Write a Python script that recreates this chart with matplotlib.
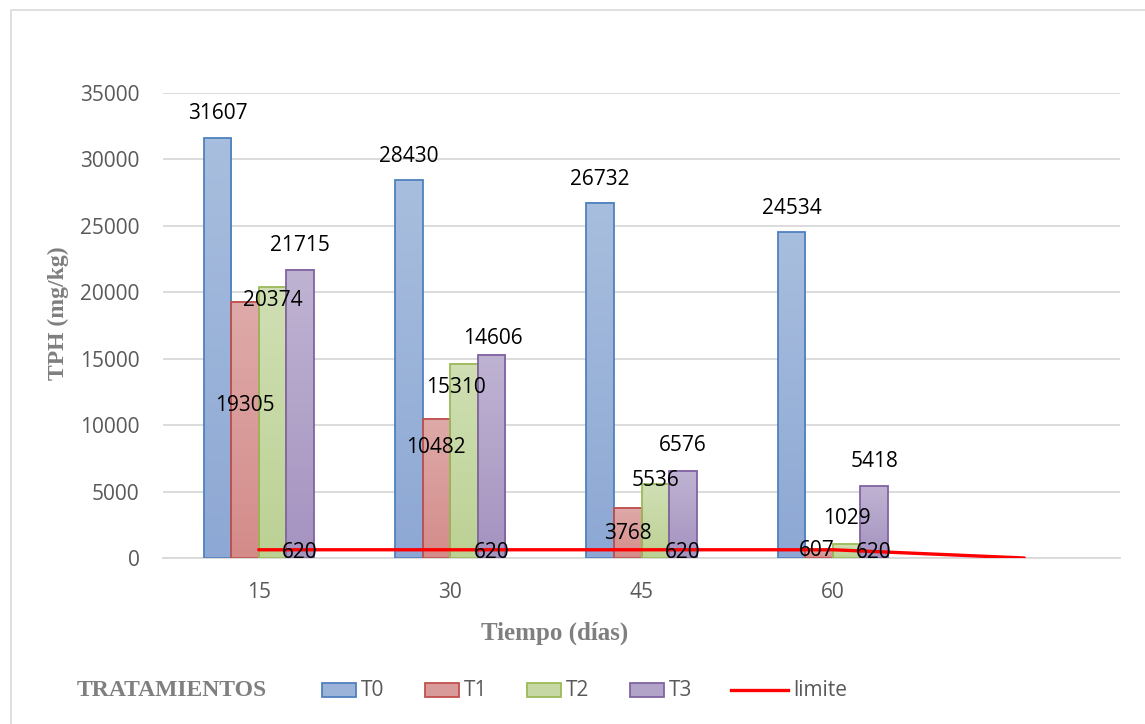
import numpy as np
import matplotlib.pyplot as plt
from matplotlib.patches import Rectangle
from matplotlib.lines import Line2D

# datos de TPH por tratamiento
dias = ['15', '30', '45', '60', '']
t0 = [31607, 28430, 26732, 24534]
t1 = [19305, 10482, 3768, 607]
t2 = [20374, 14606, 5536, 1029]
t3 = [21715, 15310, 6576, 5418]
limite = [620, 620, 620, 620, 0]
nombres = ['T0', 'T1', 'T2', 'T3']

# posicion de las etiquetas (y en mg/kg, desplazamiento x en anchos de barra)
lab_y = [[33420, 30190, 28460, 26280],
         [11490, 8340, 1880, 600],
         [19380, 16520, 5860, 3000],
         [23500, 12840, 8490, 7290]]
lab_dx = [[0, 0, 0, 0],
          [0, 0, 0, -0.1],
          [0, 1.07, 0, 0],
          [0, -1.27, 0, 0]]

# colores: borde, arriba, abajo
colores = [('#4f81bd', (168, 190, 222), (141, 168, 212)),
           ('#c0504d', (222, 170, 169), (212, 140, 138)),
           ('#9bbb59', (208, 223, 180), (188, 209, 148)),
           ('#8064a2', (191, 179, 210), (165, 147, 192))]

W, H = 1145, 724
fig = plt.figure(figsize=(W / 100, H / 100), dpi=100)
ax = fig.add_axes([163 / W, (H - 558) / H, (1120 - 163) / W, (558 - 93) / H])

x = np.arange(len(dias))
w = 0.1437
series = [t0, t1, t2, t3]

for i, vals in enumerate(series):
    borde, arriba, abajo = colores[i]
    grad = np.linspace(np.array(arriba) / 255, np.array(abajo) / 255, 64)[:, None, :]
    for j, v in enumerate(vals):
        xc = x[j] + (i - 1.5) * w
        ax.imshow(grad, extent=[xc - w / 2, xc + w / 2, 0, v], aspect='auto',
                  interpolation='bilinear', zorder=2)
        ax.add_patch(Rectangle((xc - w / 2, 0), w, v, fill=False,
                               edgecolor=borde, lw=1.3, zorder=3))
        ax.text(xc + lab_dx[i][j] * w, lab_y[i][j], str(v), ha='center', va='center',
                fontsize=15, family='Open Sans', color='black', zorder=6)

ax.plot(x, limite, color='#ff0000', lw=2.4, zorder=4, solid_capstyle='round')
for j in range(4):
    ax.text(x[j] + 1.5 * w, 450, str(limite[j]), ha='center', va='center',
            fontsize=15, family='Open Sans', color='black', zorder=6)

ax.set_xlim(-0.5, 4.5)
ax.set_ylim(0, 35000)
ax.set_yticks(range(0, 35001, 5000))
ax.set_xticks(x[:4])
ax.set_xticklabels(dias[:4])
ax.grid(axis='y', color='#d9d9d9', lw=1.3)
ax.set_axisbelow(True)
for s in ['top', 'right', 'left']:
    ax.spines[s].set_visible(False)
ax.spines['bottom'].set_color('#d9d9d9')
ax.spines['bottom'].set_linewidth(1.3)
ax.tick_params(length=0, labelsize=15, labelcolor='#595959', pad=17)
for t in ax.get_xticklabels() + ax.get_yticklabels():
    t.set_family('Open Sans')

gris = '#7f7f7f'
fig.text(555 / W, 1 - 633 / H, 'Tiempo (días)', ha='center', va='center',
         fontsize=18, family='Liberation Serif', weight='bold', color=gris)
fig.text(58 / W, 1 - 313 / H, 'TPH (mg/kg)', ha='center', va='center', rotation=90,
         fontsize=17, family='Liberation Serif', weight='bold', color=gris)
fig.text(172 / W, 1 - 690 / H, 'TRATAMIENTOS', ha='center', va='center',
         fontsize=17, family='Liberation Serif', weight='bold', color=gris)

# leyenda dibujada a mano
ly = 1 - 690 / H
for i, nom in enumerate(nombres):
    borde, arriba, abajo = colores[i]
    medio = tuple((a + b) / 2 / 255 for a, b in zip(arriba, abajo))
    x0 = 322 + i * 102.5
    fig.add_artist(Rectangle((x0 / W, ly - 7 / H), 34 / W, 14 / H, facecolor=medio,
                             edgecolor=borde, lw=1.3, transform=fig.transFigure))
    fig.text((x0 + 39) / W, ly, nom, ha='left', va='center', fontsize=15,
             family='Open Sans', color='#595959')
fig.add_artist(Line2D([731 / W, 788 / W], [ly, ly], color='#ff0000', lw=2.4,
                      transform=fig.transFigure))
fig.text(793 / W, ly, 'limite', ha='left', va='center', fontsize=15,
         family='Open Sans', color='#595959')

# marco del grafico
fig.add_artist(Rectangle((11 / W, -0.1), 1.2, 1 - 10 / H + 0.1, fill=False,
                         edgecolor='#d9d9d9', lw=1.2, transform=fig.transFigure))

fig.savefig('out.png', dpi=100)
